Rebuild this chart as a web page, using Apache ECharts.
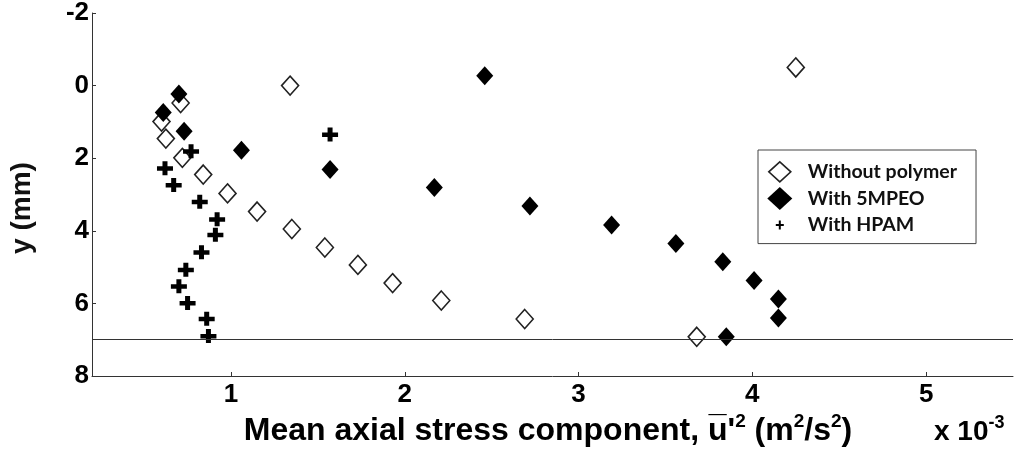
<!DOCTYPE html>
<html>
<head>
<meta charset="utf-8">
<script src="https://cdn.jsdelivr.net/npm/echarts@6/dist/echarts.min.js"></script>
<style>
  html, body { margin: 0; padding: 0; background: #fff; }
  #chart { width: 1014px; height: 455px; }
</style>
</head>
<body>
<div id="chart"></div>
<script>
// ---- data (x in units of 10^-3 m^2/s^2, y in mm) ----
const seriesNames = ['Without polymer', 'With 5MPEO', 'With HPAM'];

const noPolymerX = [1.34, 4.25, 0.71, 0.60, 0.625, 0.72, 0.84, 0.98, 1.15, 1.35, 1.54, 1.73, 1.93, 2.21, 2.69, 3.68];
const noPolymerY = [0.00, -0.50, 0.48, 0.99, 1.46, 1.99, 2.45, 2.97, 3.47, 3.95, 4.46, 4.94, 5.44, 5.92, 6.43, 6.92];

const peoX = [2.46, 0.70, 0.61, 0.73, 1.06, 1.57, 2.17, 2.72, 3.19, 3.56, 3.83, 4.01, 4.15, 4.15, 3.85];
const peoY = [-0.27, 0.23, 0.74, 1.26, 1.78, 2.31, 2.81, 3.32, 3.84, 4.35, 4.85, 5.37, 5.88, 6.40, 6.92];

const hpamX = [1.57, 0.77, 0.62, 0.67, 0.82, 0.92, 0.91, 0.83, 0.74, 0.70, 0.75, 0.86, 0.87];
const hpamY = [1.35, 1.81, 2.28, 2.74, 3.20, 3.68, 4.11, 4.59, 5.07, 5.53, 5.99, 6.42, 6.90];

const xTickValues = [1, 2, 3, 4, 5];
const yTickValues = [-2, 0, 2, 4, 6, 8];
const wallY = 7;

const xTitle = 'Mean axial stress component, ';
const yTitle = 'y (mm)';
const scaleLabel = 'x 10';

// ---- chart ----
const zip = (xs, ys) => xs.map((x, i) => [x, ys[i]]);
const PLUS = 'path://M5.5,0H10.5V5H16V9.5H10.5V14H5.5V9.5H0V5H5.5Z';
const labelFont = '"Liberation Sans", Arial, sans-serif';

const chart = echarts.init(document.getElementById('chart'), null, { renderer: 'canvas' });
chart.setOption({
  animation: false,
  backgroundColor: '#fff',
  grid: { left: 92, right: 1, top: 12, bottom: 79, containLabel: false },
  xAxis: {
    type: 'value', min: 0.2, max: 5.5,
    axisLine: { onZero: false, lineStyle: { color: '#333', width: 1 } },
    axisTick: { inside: true, length: 4, customValues: xTickValues, lineStyle: { color: '#333' } },
    axisLabel: { customValues: xTickValues, margin: 6, color: '#000', fontSize: 26, fontWeight: 'bold', fontFamily: labelFont },
    splitLine: { show: false }
  },
  yAxis: {
    type: 'value', min: -2, max: 8, interval: 2, inverse: true,
    axisLine: { show: true, onZero: false, lineStyle: { color: '#333', width: 1 } },
    axisTick: { show: true, inside: true, length: 4, lineStyle: { color: '#333' } },
    axisLabel: { margin: 3, color: '#000', fontSize: 26, fontWeight: 'bold', fontFamily: labelFont,
      formatter: v => yTickValues.includes(v) ? String(v) : '' },
    splitLine: { show: false }
  },
  legend: {
    orient: 'vertical', left: 758, top: 150,
    padding: [9, 19, 7, 8],
    borderColor: '#444', borderWidth: 1, backgroundColor: '#fff',
    itemWidth: 36, itemHeight: 24, itemGap: 2,
    textStyle: { fontFamily: 'Lato, "Open Sans", sans-serif', fontWeight: 'bold', fontSize: 19.5, color: '#111' },
    data: [
      { name: seriesNames[0], icon: 'path://M0,0M36,24M13,2L24,12L13,22L2,12Z',
        itemStyle: { color: 'rgba(255,255,255,0)', borderColor: '#222', borderWidth: 1.6 } },
      { name: seriesNames[1], icon: 'path://M0,0M36,24M13,0.5L25.5,12L13,23.5L0.5,12Z',
        itemStyle: { color: '#000', borderWidth: 0 } },
      { name: seriesNames[2], icon: 'path://M0,0M36,24M12,8H14V11.5H17V13.5H14V17H12V13.5H9V11.5H12Z',
        itemStyle: { color: '#000', borderWidth: 0 } }
    ]
  },
  series: [
    {
      name: seriesNames[0], type: 'scatter', data: zip(noPolymerX, noPolymerY),
      symbol: 'diamond', symbolSize: [17, 19],
      itemStyle: { color: 'rgba(255,255,255,0)', borderColor: '#222', borderWidth: 1.6, opacity: 1 },
      z: 2,
      markLine: {
        silent: true, symbol: 'none', animation: false,
        label: { show: false },
        lineStyle: { color: '#333', width: 1, type: 'solid' },
        data: [{ yAxis: wallY }]
      }
    },
    {
      name: seriesNames[1], type: 'scatter', data: zip(peoX, peoY),
      symbol: 'diamond', symbolSize: [17, 19],
      itemStyle: { color: '#000', opacity: 1 }, z: 3
    },
    {
      name: seriesNames[2], type: 'scatter', data: zip(hpamX, hpamY),
      symbol: PLUS, symbolSize: [16, 14],
      itemStyle: { color: '#000', opacity: 1 }, z: 4
    }
  ],
  graphic: [
    {
      type: 'text', x: 548, y: 431, z: 10,
      style: {
        text: '{a|' + xTitle + '}{a|u\u0305\'}{s|2}{a| (m}{s|2}{a|/s}{s|2}{a|)}',
        align: 'center', verticalAlign: 'middle',
        rich: {
          a: { fontSize: 32, fontWeight: 'bold', fontFamily: labelFont, color: '#000', lineHeight: 38 },
          s: { fontSize: 19, fontWeight: 'bold', fontFamily: labelFont, color: '#000', lineHeight: 21, verticalAlign: 'top' }
        }
      }
    },
    {
      type: 'text', x: 934, y: 432, z: 10,
      style: {
        text: '{a|' + scaleLabel + '}{s|-3}',
        align: 'left', verticalAlign: 'middle',
        rich: {
          a: { fontSize: 28, fontWeight: 'bold', fontFamily: labelFont, color: '#000', lineHeight: 36 },
          s: { fontSize: 18, fontWeight: 'bold', fontFamily: labelFont, color: '#000', lineHeight: 18, verticalAlign: 'top' }
        }
      }
    },
    {
      type: 'text', x: 22, y: 208, rotation: Math.PI / 2, z: 10,
      style: {
        text: yTitle, align: 'center', verticalAlign: 'middle',
        fontSize: 28, fontWeight: 'bold', fontFamily: labelFont, fill: '#111'
      }
    }
  ]
});
</script>
</body>
</html>
